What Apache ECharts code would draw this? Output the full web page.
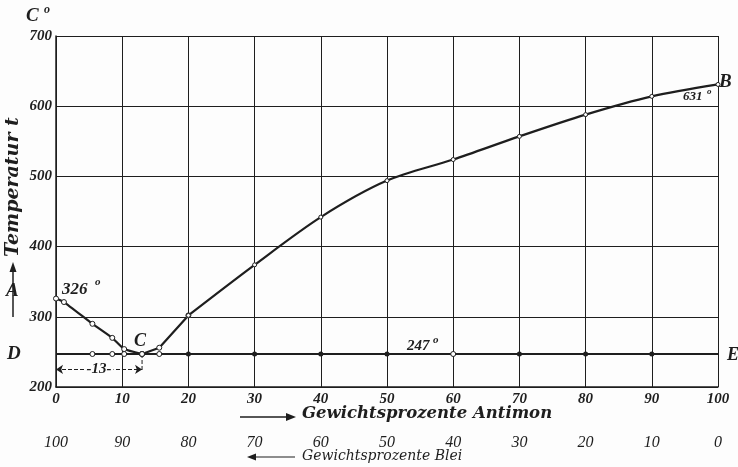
<!DOCTYPE html>
<html>
<head>
<meta charset="utf-8">
<script src="https://cdn.jsdelivr.net/npm/echarts@6/dist/echarts.min.js"></script>
<style>
html,body{margin:0;padding:0;background:#fdfdfd;}
#c{width:738px;height:467px;}
</style>
</head>
<body>
<div id="c"></div>
<script>
// ---- data ----
const antimonTicks = [0, 10, 20, 30, 40, 50, 60, 70, 80, 90, 100];
const bleiTicks = [100, 90, 80, 70, 60, 50, 40, 30, 20, 10, 0];
const tempTicks = [200, 300, 400, 500, 600, 700];
// liquidus A -> C (Blei-reiche Seite)
const liquidusAC = [[0, 326], [1.2, 321], [5.5, 290], [8.5, 270], [10.3, 254], [13, 247]];
// liquidus C -> 20 % Antimon
const liquidusC20 = [[13, 247], [15.6, 256], [20, 302]];
// liquidus 20 % -> B (Antimon-reiche Seite)
const liquidus20B = [[20, 302], [30, 374], [40, 442], [50, 494], [60, 524], [70, 557], [80, 588], [90, 614], [100, 631]];
// eutektische Haltepunkte (247°)
const eutX = [0, 5.5, 8.5, 10.3, 13, 15.6, 20, 30, 40, 50, 60, 70, 80, 90, 100];
const eutT = 247;
const eutOpen = [false, true, true, true, true, true, false, false, false, false, true, false, false, false, false];
const eutektikum = 13;

const ink = '#1e1e1e';
const chart = echarts.init(document.getElementById('c'));
const numFont = {fontFamily: 'Liberation Serif', fontStyle: 'italic', fontWeight: 'bold', fontSize: 15, color: ink};

const eutData = eutX.map((x, i) => ({
  value: [x, eutT],
  symbol: (i === 0 || i === eutX.length - 1) ? 'none' : 'circle',
  symbolSize: 5,
  itemStyle: eutOpen[i] ? {color: '#fff', borderColor: ink, borderWidth: 1} : {color: ink}
}));
const liqStyle = {
  type: 'line', lineStyle: {color: ink, width: 2.2},
  symbol: 'circle', symbolSize: 5,
  itemStyle: {color: '#fff', borderColor: ink, borderWidth: 1}, z: 3
};

chart.setOption({
  animation: false,
  backgroundColor: '#fdfdfd',
  grid: {left: 56, right: 20, top: 36, bottom: 80},
  xAxis: [{
    type: 'value', min: 0, max: 100, interval: 10,
    axisLine: {lineStyle: {color: ink, width: 1.5}},
    axisTick: {show: false},
    splitLine: {lineStyle: {color: ink, width: 1}},
    axisLabel: Object.assign({margin: 5, formatter: v => antimonTicks.includes(v) ? String(v) : ''}, numFont)
  }, {
    type: 'value', min: 0, max: 100, interval: 10, inverse: true, position: 'bottom', offset: 40,
    axisLine: {show: false}, axisTick: {show: false}, splitLine: {show: false},
    axisLabel: {fontFamily: 'Liberation Serif', fontStyle: 'italic', fontSize: 16, color: ink,
      formatter: v => bleiTicks.includes(v) ? String(v) : ''}
  }],
  yAxis: {
    type: 'value', min: 200, max: 700, interval: 100,
    axisLine: {lineStyle: {color: ink, width: 1.5}},
    axisTick: {show: false},
    splitLine: {lineStyle: {color: ink, width: 1}},
    axisLabel: Object.assign({margin: 4, formatter: v => tempTicks.includes(v) ? String(v) : ''}, numFont)
  },
  series: [
    Object.assign({}, liqStyle, {data: liquidusAC, smooth: 0.15}),
    Object.assign({}, liqStyle, {data: liquidusC20, smooth: false}),
    Object.assign({}, liqStyle, {data: liquidus20B, smooth: 0.3, symbolSize: 4}),
    {
      type: 'line', data: eutData,
      lineStyle: {color: ink, width: 2.2},
      z: 4,
      markLine: {
        silent: true, symbol: ['arrow', 'arrow'], symbolSize: [7, 7],
        lineStyle: {color: ink, type: 'dashed', width: 1},
        label: {show: true, position: 'middle', formatter: '-13-', color: ink,
          fontFamily: 'Liberation Serif', fontStyle: 'italic', fontWeight: 'bold', fontSize: 15, padding: [0, 2], backgroundColor: '#fdfdfd', distance: -7},
        data: [[{coord: [0, 225]}, {coord: [eutektikum, 225]}]]
      }
    }, {
      type: 'line', data: [[eutektikum, 247], [eutektikum, 222]], symbol: 'none',
      lineStyle: {color: ink, type: 'dashed', width: 1}, z: 2
    }
  ]
});

const t = (x, y, s, extra) => ({type: 'text', left: x, top: y, style: Object.assign({text: s, fill: ink,
  font: 'italic bold 16px "Liberation Serif"'}, extra || {})});
chart.setOption({graphic: [
  t(26, 7, 'C', {font: 'italic bold 19px "Liberation Serif"'}),
  t(44, 4, 'o', {font: 'italic bold 12px "Liberation Serif"'}),
  {type: 'text', x: 4, y: 257, rotation: Math.PI / 2, style: {text: 'Temperatur t', fill: ink,
    font: 'italic bold 19px "DejaVu Serif"'}},
  {type: 'line', shape: {x1: 13, y1: 317, x2: 13, y2: 270}, style: {stroke: ink, lineWidth: 1.5}},
  {type: 'polygon', shape: {points: [[13, 262], [9.5, 272], [16.5, 272]]}, style: {fill: ink}},
  t(6, 282, 'A', {font: 'italic bold 19px "Liberation Serif"'}),
  t(62, 281, '326', {font: 'italic bold 17px "Liberation Serif"'}),
  t(95, 277, 'o', {font: 'italic bold 11px "Liberation Serif"'}),
  t(7, 345, 'D', {font: 'italic bold 19px "Liberation Serif"'}),
  t(134, 332, 'C', {font: 'italic bold 18px "Liberation Serif"'}),
  t(407, 339, '247', {font: 'italic bold 15px "Liberation Serif"'}),
  t(433, 335, 'o', {font: 'italic bold 11px "Liberation Serif"'}),
  t(719, 73, 'B', {font: 'italic bold 19px "Liberation Serif"'}),
  t(683, 90, '631', {font: 'italic bold 13px "Liberation Serif"'}),
  t(707, 87, 'o', {font: 'italic bold 9px "Liberation Serif"'}),
  t(727, 346, 'E', {font: 'italic bold 18px "Liberation Serif"'}),
  {type: 'line', shape: {x1: 240, y1: 417, x2: 288, y2: 417}, style: {stroke: ink, lineWidth: 1.5}},
  {type: 'polygon', shape: {points: [[296, 417], [286, 413], [286, 421]]}, style: {fill: ink}},
  t(302, 405, 'Gewichtsprozente Antimon', {font: 'italic bold 16.5px "DejaVu Serif"'}),
  {type: 'line', shape: {x1: 255, y1: 457, x2: 295, y2: 457}, style: {stroke: ink, lineWidth: 1.2}},
  {type: 'polygon', shape: {points: [[247, 457], [256, 453.5], [256, 460.5]]}, style: {fill: ink}},
  t(302, 449, 'Gewichtsprozente Blei', {font: 'italic 14px "DejaVu Serif"'})
]});
</script>
</body>
</html>
